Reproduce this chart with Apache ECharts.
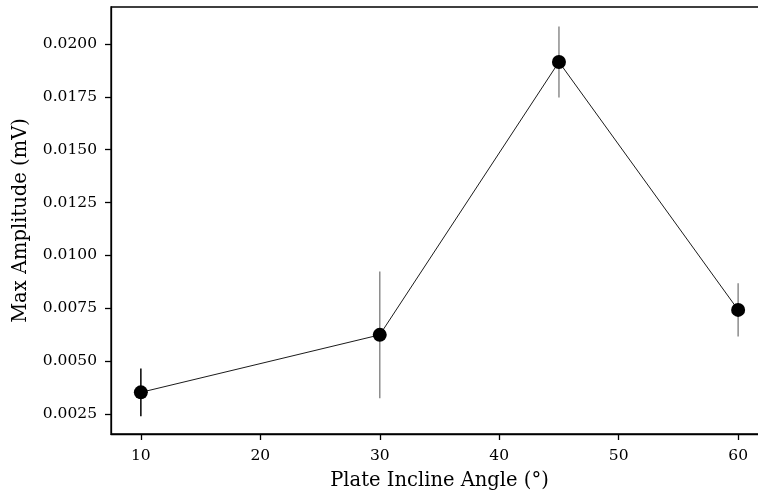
<!DOCTYPE html>
<html>
<head>
<meta charset="utf-8">
<script src="https://cdn.jsdelivr.net/npm/echarts@6/dist/echarts.min.js"></script>
<style>
  html, body { margin: 0; padding: 0; background: #fff; }
  #chart { width: 758px; height: 495px; }
</style>
</head>
<body>
<div id="chart"></div>
<script>
// plate incline angle (deg) vs max amplitude (mV), with +/- error
const angles = [10, 30, 45, 60];
const amplitudes = [0.00352, 0.00624, 0.01915, 0.00742];
const errors = [0.00113, 0.00300, 0.00168, 0.00126];
const xTicks = [10, 20, 30, 40, 50, 60];
const yTicks = [0.0025, 0.005, 0.0075, 0.01, 0.0125, 0.015, 0.0175, 0.02];

const FONT = 'DejaVu Serif';
const barColors = ['#000000', '#8c8c8c', '#8c8c8c', '#8c8c8c'];

const chart = echarts.init(document.getElementById('chart'));

const pointData = angles.map((a, i) => [a, amplitudes[i]]);
const errData = angles.map((a, i) => [a, amplitudes[i] - errors[i], amplitudes[i] + errors[i]]);

const axisText = { fontFamily: FONT, fontSize: 15.5, color: '#000' };

chart.setOption({
  animation: false,
  grid: {
    left: 111, right: -10, top: 7, bottom: 61,
    outerBoundsMode: 'none', containLabel: false,
    show: true, borderColor: '#000', borderWidth: 1.3
  },
  xAxis: {
    type: 'value',
    min: 7.5,
    max: 62.5,
    interval: 10,
    name: 'Plate Incline Angle (°)',
    nameLocation: 'middle',
    nameGap: 37,
    nameTextStyle: { fontFamily: FONT, fontSize: 19.5, color: '#000' },
    axisLine: { show: true, lineStyle: { color: '#000', width: 1.3 } },
    axisTick: { show: true, length: 6, lineStyle: { color: '#000', width: 1.3 }, customValues: xTicks },
    axisLabel: Object.assign({ margin: 14, customValues: xTicks }, axisText),
    splitLine: { show: false }
  },
  yAxis: {
    type: 'value',
    min: 0.00155,
    max: 0.02175,
    name: 'Max Amplitude (mV)',
    nameLocation: 'middle',
    nameGap: 80,
    nameTextStyle: { fontFamily: FONT, fontSize: 19.5, color: '#000' },
    axisLine: { show: true, lineStyle: { color: '#000', width: 1.3 } },
    axisTick: { show: true, length: 6, lineStyle: { color: '#000', width: 1.3 }, customValues: yTicks },
    axisLabel: Object.assign({ margin: 14, customValues: yTicks, formatter: (v) => v.toFixed(4) }, axisText),
    splitLine: { show: false }
  },
  series: [
    {
      type: 'custom',
      data: errData,
      z: 1,
      renderItem: (params, api) => {
        const x = api.value(0);
        const lo = api.coord([x, api.value(1)]);
        const hi = api.coord([x, api.value(2)]);
        return {
          type: 'line',
          shape: { x1: lo[0], y1: lo[1], x2: hi[0], y2: hi[1] },
          style: { stroke: barColors[params.dataIndex], lineWidth: 1.5 }
        };
      }
    },
    {
      type: 'line',
      data: pointData,
      z: 2,
      symbol: 'circle',
      symbolSize: 14,
      lineStyle: { color: '#000', width: 0.9 },
      itemStyle: { color: '#000' }
    }
  ]
});
</script>
</body>
</html>
